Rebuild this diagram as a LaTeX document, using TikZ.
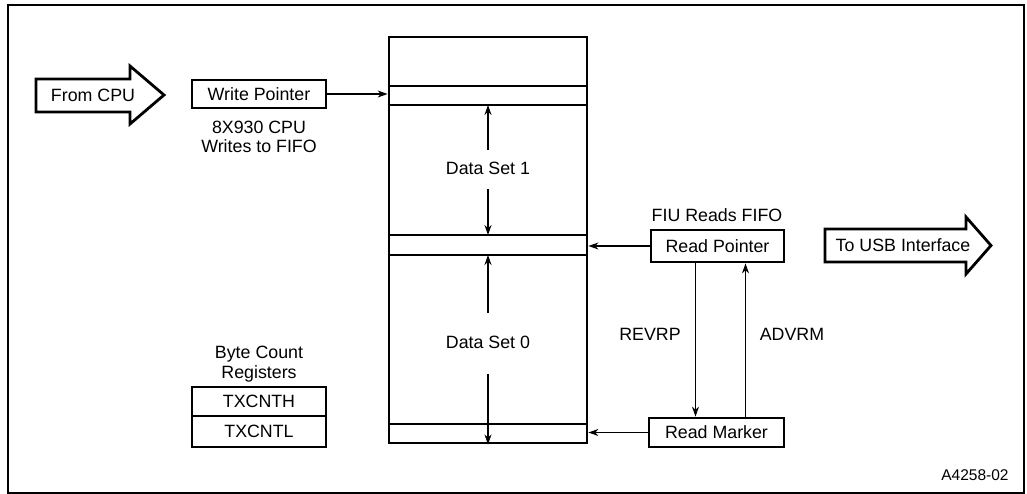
\documentclass[tikz,border=0pt]{standalone}
\usepackage{fontspec}
\setmainfont{Liberation Sans}
\usetikzlibrary{arrows.meta, positioning, calc}

\begin{document}
\begin{tikzpicture}[
    x=1pt, y=-1pt,
    lbl/.style={font=\fontsize{17.8}{19.5}\selectfont, align=center},
    reg/.style={rectangle, draw, line width=2.8pt, minimum width=133pt,
                minimum height=30pt, inner sep=0pt, lbl},
    arr/.style={-{Stealth[length=10pt, width=7pt]}, line width=1.2pt},
    bigarrow/.style={draw, line width=2.8pt, line join=miter},
    heavy/.style={line width=2.8pt},
]
    \useasboundingbox (0,0) rectangle (1027,494);
    \draw[line width=1.8pt] (8,5) rectangle (1024,493);

    % FIFO
    \node[rectangle, draw, heavy, minimum width=198pt, minimum height=406pt,
          inner sep=0pt] (fifo) at (488,240) {};
    \foreach \yy/\nm in {86/b0, 105/b1, 235/b2, 255/b3, 424/b4} {
        \draw[heavy] (fifo.west |- 0,\yy) -- (fifo.east |- 0,\yy);
        \coordinate (\nm) at (488,\yy);
    }
    \coordinate (b5) at (fifo.south);

    % Data sets
    \node[lbl] (ds1) at (488,168) {Data Set 1};
    \draw[arr] ([yshift=8pt]ds1.north) -- (b1);
    \draw[arr] ([yshift=-11pt]ds1.south) -- (b2);

    \node[lbl] (ds0) at (488,342) {Data Set 0};
    \draw[arr] ([yshift=19pt]ds0.north) -- (b3);
    \draw[arr] ([yshift=-22pt]ds0.south) -- (b5);

    % CPU side
    \draw[bigarrow] (36,79) -- (130,79) -- (130,66) -- (164,95) -- (130,124)
        -- (130,112) -- (36,112) -- cycle;
    \node[lbl] (fromcpu) at (93,95.5) {From CPU};

    \node[reg, minimum width=134pt, minimum height=28pt] (wp) at (259,94) {Write Pointer};
    \node[lbl] (cpuw) at (259,137) {8X930 CPU\\Writes to FIFO};
    \draw[arr] (wp.east) -- (wp.east -| fifo.west);

    \node[lbl] (bcr) at (259,364) {Byte Count\\Registers};
    \node[reg, minimum width=134pt, minimum height=29pt] (txh) at (259,401.5) {TXCNTH};
    \node[reg, minimum width=134pt, minimum height=31pt] (txl) at (259,431.5) {TXCNTL};

    % FIU side
    \node[lbl] (fiu) at (717,215) {FIU Reads FIFO};
    \node[reg, minimum height=32pt] (rp) at (717.5,246) {Read Pointer};
    \node[reg, minimum width=135pt, minimum height=29pt] (rm) at (716.5,432.5) {Read Marker};
    \draw[arr] (rp.west) -- (rp.west -| fifo.east);
    \draw[arr] (rm.west) -- (rm.west -| fifo.east);

    \draw[arr] ([xshift=-22pt]rp.south) -- ([xshift=-22pt]rp.south |- rm.north);
    \draw[arr] ([xshift=29pt]rm.north |- rm.north) -- ([xshift=29pt]rm.north |- rp.south);
    \node[lbl] (revrp) at (650,334) {REVRP};
    \node[lbl] (advrm) at (792,334) {ADVRM};

    \draw[bigarrow] (825,229) -- (966,229) -- (966,217) -- (991,245.5) -- (966,274)
        -- (966,262) -- (825,262) -- cycle;
    \node[lbl] (usb) at (903,245.5) {To USB Interface};

    \node[font=\fontsize{15.5}{17}\selectfont] (fig) at (975,475) {A4258-02};
\end{tikzpicture}
\end{document}
